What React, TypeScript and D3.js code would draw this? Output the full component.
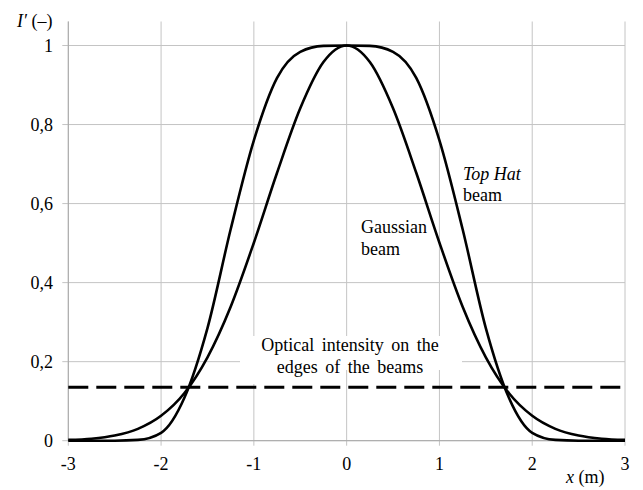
import React from "react";
import * as d3 from "d3";

const xValues = [-3, -2.75, -2.5, -2.25, -2, -1.75, -1.5, -1.25, -1, -0.75, -0.5, -0.25, 0, 0.25, 0.5, 0.75, 1, 1.25, 1.5, 1.75, 2, 2.25, 2.5, 2.75, 3];
const gaussianValues = [0.002, 0.005, 0.013, 0.03, 0.063, 0.12, 0.211, 0.339, 0.501, 0.678, 0.841, 0.958, 1, 0.958, 0.841, 0.678, 0.501, 0.339, 0.211, 0.12, 0.063, 0.03, 0.013, 0.005, 0.002];
const topHatValues = [0, 0, 0, 0.002, 0.02, 0.108, 0.285, 0.535, 0.76, 0.918, 0.984, 0.999, 1, 0.999, 0.984, 0.918, 0.76, 0.535, 0.285, 0.108, 0.02, 0.002, 0, 0, 0];
const edgeIntensity = [0.135];
const xTicks = [-3, -2, -1, 0, 1, 2, 3];
const xTickLabels = ["-3", "-2", "-1", "0", "1", "2", "3"];
const yTicks = [0, 0.2, 0.4, 0.6, 0.8, 1];
const yTickLabels = ["0", "0,2", "0,4", "0,6", "0,8", "1"];

const W = 643, H = 490;
const FONT = "'Liberation Serif', 'Times New Roman', Times, serif";
const ts: React.CSSProperties = { fontFamily: FONT, fontSize: 18 };

export default function App() {
  const x = d3.scaleLinear().domain([-3, 3]).range([68.3, 625]);
  const y = d3.scaleLinear().domain([0, 1]).range([440.7, 45.5]);
  const line = d3.line<number>()
    .x((_, i) => x(xValues[i]))
    .y((d) => y(d))
    .curve(d3.curveMonotoneX);
  const grid = "#c4c4c4";
  return (
    <svg width={W} height={H} style={{ position: "absolute", left: 0, top: 0, background: "#fff", fontFamily: FONT }}>
      <rect x={0} y={0} width={W} height={H} fill="#fff" />
      {yTicks.map((t) => (
        <line key={"gy" + t} x1={x(-3) - 6} x2={x(3)} y1={y(t)} y2={y(t)} stroke={grid} strokeWidth={1} />
      ))}
      {xTicks.map((t) => (
        <line key={"gx" + t} x1={x(t)} x2={x(t)} y1={y(1) - 24} y2={y(0) + 5} stroke={grid} strokeWidth={1} />
      ))}
      <line x1={x(-3)} x2={x(-3)} y1={y(1) - 24} y2={y(0)} stroke="#a8a8a8" strokeWidth={1} />
      <line x1={x(-3)} x2={x(3)} y1={y(0)} y2={y(0)} stroke="#a8a8a8" strokeWidth={1} />
      <rect x={240} y={336} width={222} height={34} fill="#fff" />
      <rect x={246} y={369} width={96} height={15} fill="#fff" />
      {edgeIntensity.map((v) => (
        <line key={"e" + v} x1={x(-3)} x2={x(3)} y1={y(v)} y2={y(v)} stroke="#000" strokeWidth={3} strokeDasharray="20 8" />
      ))}
      <path d={line(gaussianValues) || ""} fill="none" stroke="#000" strokeWidth={2.6} />
      <path d={line(topHatValues) || ""} fill="none" stroke="#000" strokeWidth={2.6} />
      {yTicks.map((t, i) => (
        <text key={"ty" + t} style={ts} x={53} y={y(t)} dy="0.35em" textAnchor="end" fill="#000">{yTickLabels[i]}</text>
      ))}
      {xTicks.map((t, i) => (
        <text key={"tx" + t} style={ts} x={x(t)} y={470} textAnchor="middle" fill="#000">{xTickLabels[i]}</text>
      ))}
      <text style={ts} x={17} y={27} fill="#000"><tspan fontStyle="italic">I′</tspan> (–)</text>
      <text style={ts} x={566} y={483} fill="#000"><tspan fontStyle="italic">x</tspan> (m)</text>
      <text style={{ ...ts, fontStyle: "italic" }} x={463} y={180} fill="#000">Top Hat</text>
      <text style={ts} x={463} y={201} fill="#000">beam</text>
      <text style={ts} x={361} y={233} fill="#000">Gaussian</text>
      <text style={ts} x={361} y={255} fill="#000">beam</text>
      <text style={{ ...ts, wordSpacing: 3 }} x={350} y={351} textAnchor="middle" fill="#000">Optical intensity on the</text>
      <text style={{ ...ts, wordSpacing: 3 }} x={350} y={373} textAnchor="middle" fill="#000">edges of the beams</text>
    </svg>
  );
}
